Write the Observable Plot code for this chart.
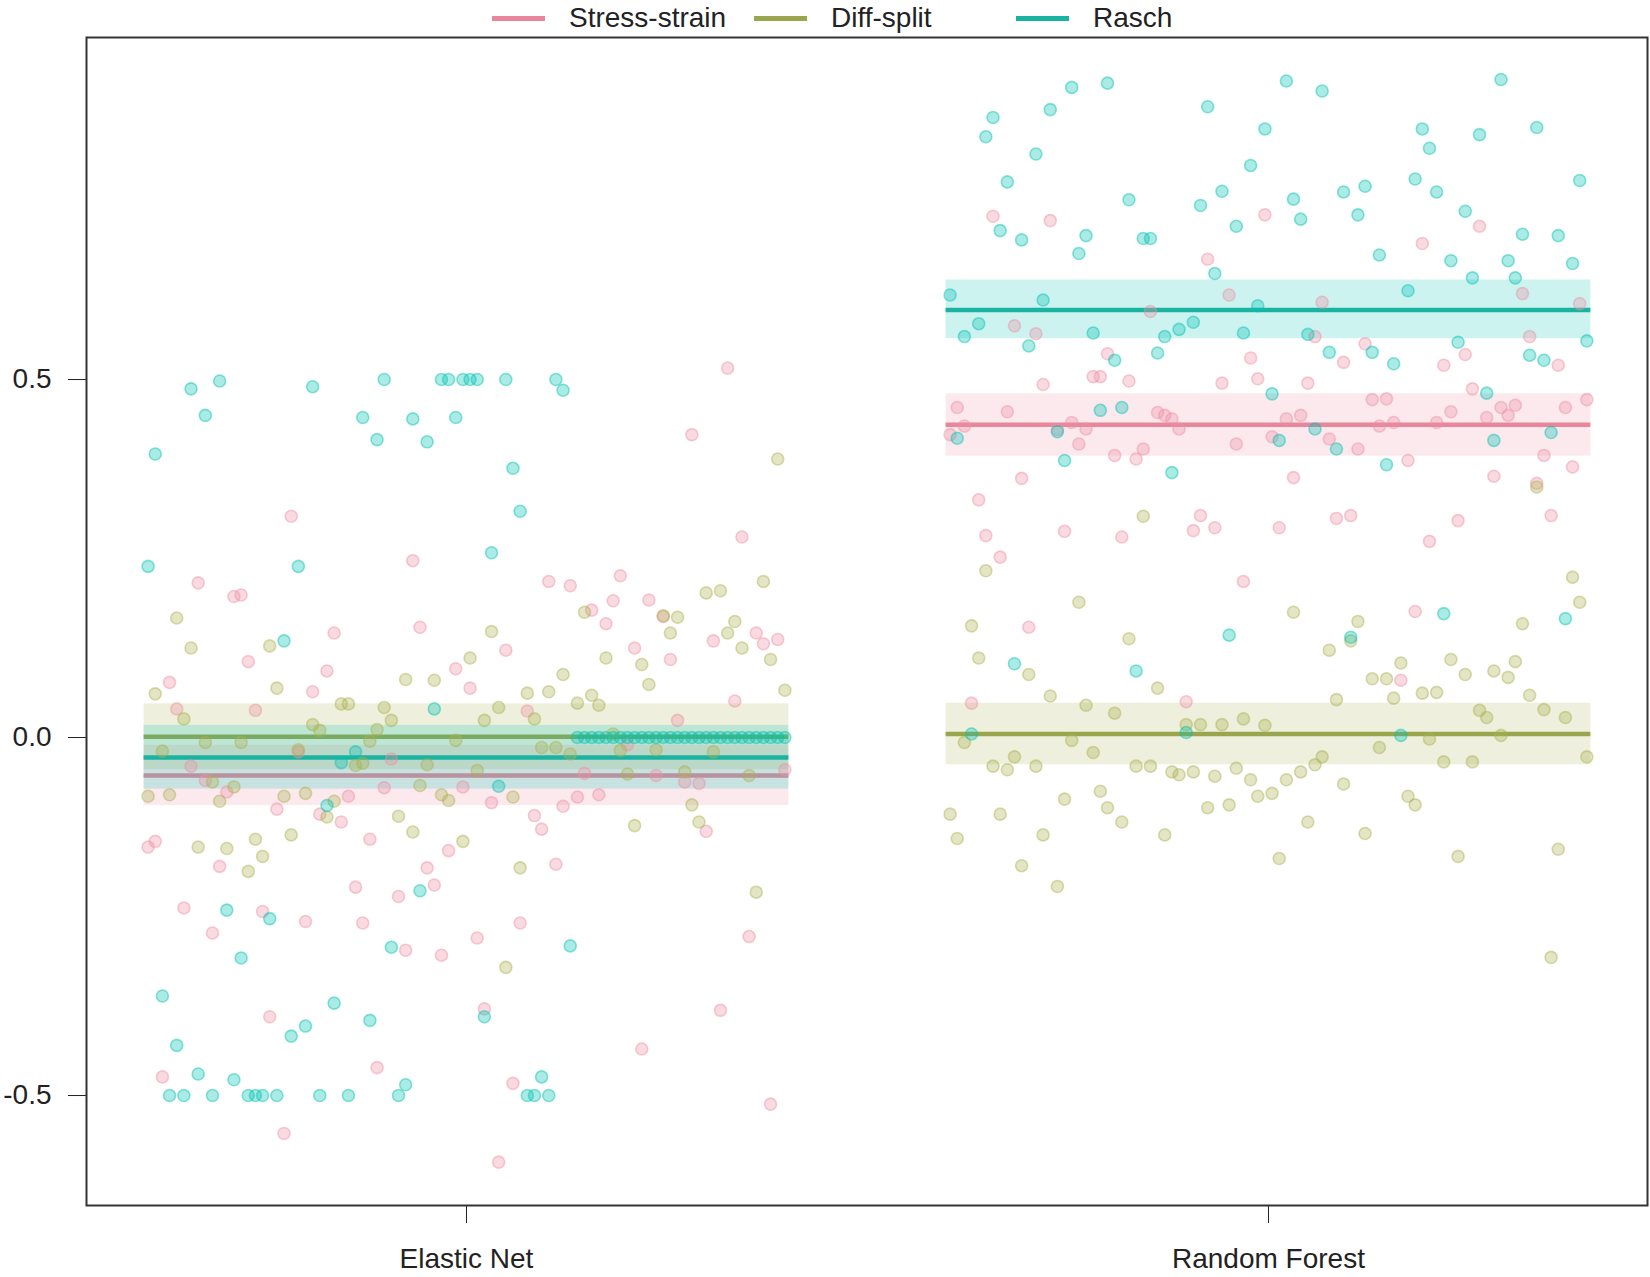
<!DOCTYPE html>
<html><head><meta charset="utf-8">
<script src="https://cdn.jsdelivr.net/npm/d3@7"></script>
<script src="https://cdn.jsdelivr.net/npm/@observablehq/plot@0.6"></script>
<style>
body{margin:0;background:#fff;font-family:"Liberation Sans",Arial,sans-serif;}
#legend{position:relative;height:36px;width:1650px;}
.item{position:absolute;top:0;height:36px;display:flex;align-items:center;font-size:28px;color:#222;white-space:nowrap;}
.sw{width:53px;height:5px;margin-right:24px;}
</style></head><body>
<div id="legend"></div>
<div id="chart"></div>
<script>
// ---- data ----
const groups = ["Elastic Net", "Random Forest"];
const series = ["Stress-strain", "Diff-split", "Rasch"];
const yTicks = [-0.5, 0, 0.5];

const enStress = [-0.153,-0.145,-0.474,0.077,0.040,-0.238,-0.04,0.216,-0.06,-0.273,
 -0.18,-0.076,0.197,0.199,0.106,0.038,-0.243,-0.39,-0.1,-0.553,
 0.309,-0.02,-0.257,0.064,-0.107,0.093,0.146,-0.118,-0.082,-0.209,
 -0.259,-0.142,-0.461,-0.07,-0.03,-0.222,-0.297,0.247,0.154,-0.182,
 -0.206,-0.304,-0.158,0.096,-0.069,0.069,-0.28,-0.379,-0.091,-0.593,
 0.122,-0.483,-0.259,0.037,-0.109,-0.128,0.218,-0.177,-0.096,0.212,
 -0.083,-0.05,0.178,-0.08,0.159,0.191,0.226,-0.01,0.125,-0.435,
 0.192,-0.053,0.169,0.109,0.024,-0.062,0.423,-0.064,-0.131,0.135,
 -0.381,0.516,0.051,0.28,-0.278,0.146,0.131,-0.512,0.137,-0.045];
const enDiff = [-0.082,0.061,-0.019,-0.08,0.167,0.026,0.125,-0.153,-0.007,-0.062,
 -0.089,-0.155,-0.069,-0.007,-0.187,-0.142,-0.166,0.128,0.069,-0.082,
 -0.136,-0.017,-0.078,0.018,0.01,-0.111,-0.089,0.047,0.047,-0.039,
 -0.036,-0.005,0.011,0.042,0.024,-0.11,0.081,-0.132,-0.067,-0.038,
 0.080,-0.08,-0.088,-0.004,-0.145,0.111,-0.046,0.024,0.148,0.042,
 -0.321,-0.083,-0.182,0.062,0.026,-0.014,0.064,-0.014,0.088,-0.023,
 0.048,0.175,0.059,0.045,0.111,0.005,-0.018,-0.051,-0.123,0.102,
 0.074,-0.017,0.17,0.146,0.168,-0.048,-0.094,-0.118,0.202,-0.02,
 0.205,0.146,0.162,0.125,-0.053,-0.216,0.218,0.109,0.389,0.066];
const enRasch = [0.239,0.396,-0.361,-0.5,-0.43,-0.5,0.487,-0.47,0.45,-0.5,
 0.498,-0.241,-0.478,-0.308,-0.5,-0.5,-0.5,-0.253,-0.5,0.135,
 -0.417,0.239,-0.403,0.49,-0.5,-0.095,-0.371,-0.035,-0.5,-0.02,
 0.447,-0.395,0.416,0.5,-0.293,-0.5,-0.485,0.445,-0.214,0.413,
 0.04,0.5,0.5,0.447,0.5,0.5,0.5,-0.39,0.258,-0.068,
 0.5,0.376,0.316,-0.5,-0.5,-0.474,-0.5,0.5,0.485,-0.291,
 0,0,0,0,0,0,0,0,0,0,
 0,0,0,0,0,0,0,0,0,0,
 0,0,0,0,0,0,0,0,0,0];
const rfStress = [0.423,0.461,0.435,0.048,0.332,0.282,0.728,0.252,0.455,0.575,
 0.362,0.154,0.564,0.493,0.722,0.43,0.288,0.44,0.41,0.431,
 0.504,0.504,0.536,0.394,0.28,0.498,0.389,0.403,0.595,0.454,
 0.45,0.445,0.431,0.05,0.289,0.31,0.668,0.293,0.495,0.618,
 0.41,0.218,0.53,0.501,0.73,0.42,0.293,0.445,0.363,0.45,
 0.495,0.56,0.608,0.417,0.306,0.524,0.31,0.403,0.55,0.472,
 0.435,0.473,0.44,0.08,0.387,0.176,0.69,0.274,0.44,0.52,
 0.455,0.303,0.535,0.487,0.714,0.447,0.365,0.461,0.45,0.464,
 0.62,0.56,0.355,0.394,0.31,0.52,0.461,0.378,0.606,0.472];
const rfDiff = [-0.107,-0.141,-0.007,0.156,0.111,0.233,-0.04,-0.107,-0.045,-0.027,
 -0.179,0.088,-0.04,-0.136,0.058,-0.208,-0.086,-0.004,0.189,0.045,
 -0.021,-0.075,-0.098,0.034,-0.118,0.138,-0.04,0.309,-0.04,0.069,
 -0.136,-0.048,-0.052,0.018,-0.048,0.018,-0.098,-0.054,0.018,-0.094,
 -0.043,0.026,-0.059,-0.082,0.017,-0.078,-0.169,-0.059,0.175,-0.048,
 -0.118,-0.038,-0.027,0.122,0.053,-0.065,0.135,0.162,-0.134,0.082,
 -0.014,0.082,0.055,0.104,-0.082,-0.094,0.062,-0.002,0.063,-0.034,
 0.109,-0.166,0.088,-0.034,0.038,0.028,0.093,0.003,0.084,0.106,
 0.159,0.059,0.35,0.039,-0.307,-0.156,0.028,0.224,0.189,-0.027];
const rfRasch = [0.618,0.418,0.56,0.005,0.578,0.839,0.866,0.708,0.776,0.103,
 0.695,0.547,0.815,0.611,0.877,0.427,0.387,0.908,0.676,0.701,
 0.565,0.457,0.914,0.527,0.461,0.751,0.093,0.697,0.697,0.537,
 0.56,0.37,0.57,0.007,0.58,0.743,0.881,0.648,0.763,0.143,
 0.714,0.565,0.799,0.603,0.85,0.48,0.415,0.917,0.752,0.724,
 0.563,0.431,0.903,0.538,0.403,0.762,0.14,0.73,0.77,0.538,
 0.674,0.381,0.522,0.003,0.624,0.78,0.85,0.823,0.762,0.173,
 0.666,0.552,0.735,0.642,0.842,0.481,0.415,0.919,0.666,0.642,
 0.703,0.534,0.852,0.527,0.426,0.701,0.166,0.662,0.778,0.554];

// means and interval bounds per group: [Stress-strain, Diff-split, Rasch]
const enMean = [-0.053, 0.001, -0.028];
const enLow  = [-0.095, -0.045, -0.072];
const enHigh = [-0.011, 0.047, 0.017];
const rfMean = [0.437, 0.005, 0.597];
const rfLow  = [0.393, -0.038, 0.557];
const rfHigh = [0.480, 0.048, 0.639];

// ---- styles ----
const baseColor = {"Stress-strain": "#ED90A4", "Diff-split": "#ABB150", "Rasch": "#00C1B2"};
const lineColor = {"Stress-strain": "#e8869b", "Diff-split": "#9aa64e", "Rasch": "#1ab3a2"};

// ---- build tables ----
const values = [[enStress, enDiff, enRasch], [rfStress, rfDiff, rfRasch]];
const sums = [[enMean, enLow, enHigh], [rfMean, rfLow, rfHigh]];
const pts = [];
values.forEach((gv, gi) => gv.forEach((arr, si) => arr.forEach((v, i) =>
  pts.push({g: gi, s: series[si], rep: i + 1, n: arr.length, v}))));
const summ = [];
sums.forEach(([m, lo, hi], gi) => series.forEach((s, si) =>
  summ.push({g: gi, s, mean: m[si], lo: lo[si], hi: hi[si]})));

const spread = 0.794, half = 0.402;
const px = d => d.g + ((d.rep - 1) / (d.n - 1) - 0.5) * spread;

const marks = [];
for (const s of series) {
  const sd = summ.filter(d => d.s === s);
  marks.push(Plot.rect(sd, {x1: d => d.g - half, x2: d => d.g + half, y1: "lo", y2: "hi",
    fill: baseColor[s], fillOpacity: 0.2}));
  marks.push(Plot.ruleY(sd, {y: "mean", x1: d => d.g - half, x2: d => d.g + half,
    stroke: lineColor[s], strokeWidth: 4.5}));
}
for (const s of series) {
  marks.push(Plot.dot(pts.filter(d => d.s === s), {x: px, y: "v", r: 6,
    fill: baseColor[s], fillOpacity: 0.33, stroke: baseColor[s], strokeOpacity: 0.45, strokeWidth: 1.6}));
}
marks.push(Plot.frame({stroke: "#333", strokeWidth: 2}));

const chart = Plot.plot({
  width: 1650, height: 1241,
  marginLeft: 86, marginRight: 3, marginTop: 1, marginBottom: 72,
  x: {domain: [-0.4738, 1.4726], ticks: [0, 1], tickFormat: i => groups[i], tickSize: 18, tickPadding: 25, label: null},
  y: {domain: [-0.6536, 0.9777], ticks: yTicks, tickFormat: d => d.toFixed(1), tickSize: 18, tickPadding: 17, label: null},
  style: {fontFamily: "'Liberation Sans', Arial, sans-serif", fontSize: "28px", color: "#222", background: "#fff"},
  marks
});
document.getElementById("chart").append(chart);

// ---- legend ----
const legend = document.getElementById("legend");
const legendLeft = [492, 754, 1016];
series.forEach((s, i) => {
  const it = document.createElement("div");
  it.className = "item";
  it.style.left = legendLeft[i] + "px";
  const sw = document.createElement("span");
  sw.className = "sw";
  sw.style.background = lineColor[s];
  const tx = document.createElement("span");
  tx.textContent = s;
  it.append(sw, tx);
  legend.append(it);
});
</script>
</body></html>
